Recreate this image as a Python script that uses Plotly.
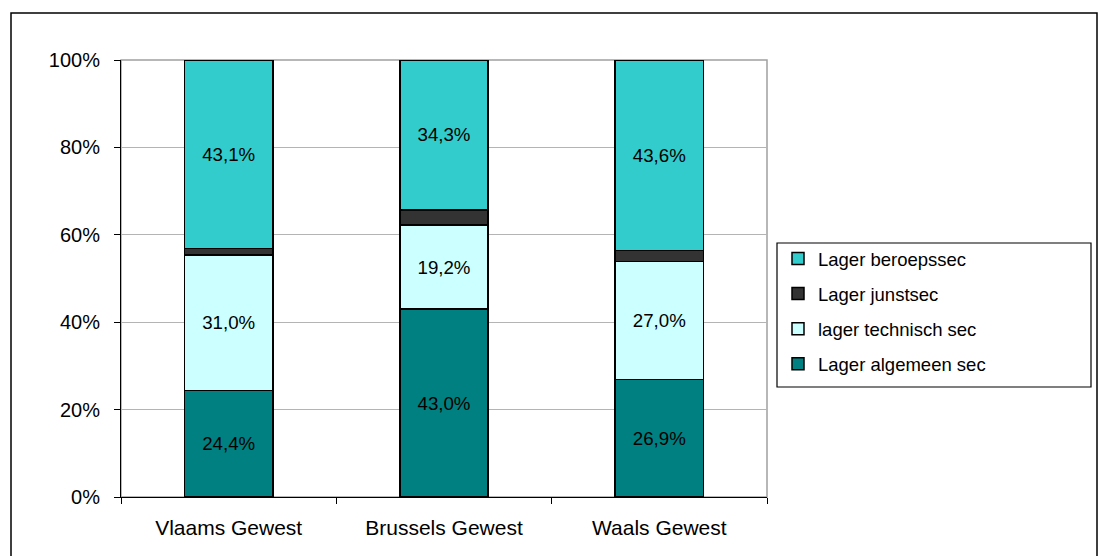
import plotly.graph_objects as go

categories = ["Vlaams Gewest", "Brussels Gewest", "Waals Gewest"]
series_names = ["Lager algemeen sec", "lager technisch sec", "Lager junstsec", "Lager beroepssec"]
algemeen = [24.4, 43.0, 26.9]
technisch = [31.0, 19.2, 27.0]
junst = [1.5, 3.5, 2.5]
beroeps = [43.1, 34.3, 43.6]
show_labels = [True, True, False, True]
colors = ["#008080", "#CCFFFF", "#333333", "#33CCCC"]
y_ticks = [0, 20, 40, 60, 80, 100]
y_ticktext = ["0%", "20%", "40%", "60%", "80%", "100%"]

W, H = 1099, 556
L, R, T, B = 121, 767, 60, 497
PW, PH = R - L, B - T


def px(x):
    return (x - L) / PW


def py(y):
    return (B - y) / PH


FONT = "Liberation Sans, Arial, sans-serif"

fig = go.Figure()
for i, (name, vals) in enumerate(zip(series_names, [algemeen, technisch, junst, beroeps])):
    texts = [f"{v:.1f}%".replace(".", ",") for v in vals] if show_labels[i] else None
    fig.add_trace(go.Bar(
        x=categories, y=vals, name=name,
        marker=dict(color=colors[i], line=dict(color="black", width=1.5)),
        text=texts, textposition="inside" if texts else "none",
        insidetextanchor="middle",
        textfont=dict(color="black", size=18.7, family=FONT),
        legendgroup=name, legendrank=100 - i,
        hoverinfo="skip",
    ))

fig.update_layout(
    width=W, height=H,
    margin=dict(l=L, r=W - R, t=T, b=H - B),
    barmode="stack", bargap=0.59,
    plot_bgcolor="white", paper_bgcolor="white",
    font=dict(family=FONT, color="black", size=20),
    showlegend=True,
    legend=dict(
        x=px(778), y=py(240), xanchor="left", yanchor="top",
        traceorder="grouped", tracegroupgap=8,
        font=dict(size=18.5, family=FONT),
        bgcolor="rgba(0,0,0,0)", borderwidth=0,
    ),
    xaxis=dict(
        showgrid=False, showline=True, linecolor="black", linewidth=1,
        ticks="outside", tickson="boundaries", ticklen=6, tickcolor="black",
        tickfont=dict(size=21), ticklabelstandoff=12,
    ),
    yaxis=dict(
        range=[0, 100], tickvals=y_ticks, ticktext=y_ticktext,
        showgrid=True, gridcolor="#B4B4B4", gridwidth=1,
        showline=True, linecolor="black", linewidth=1,
        ticks="outside", ticklen=6, tickcolor="black",
        tickfont=dict(size=20), zeroline=False, ticklabelstandoff=10,
    ),
    shapes=[
        dict(type="rect", xref="paper", yref="paper", x0=0, x1=1, y0=0, y1=1,
             line=dict(color="#A0A0A0", width=1.5), layer="below"),
        dict(type="rect", xref="paper", yref="paper",
             x0=px(777), x1=px(1091), y0=py(387), y1=py(243),
             line=dict(color="black", width=1.2), fillcolor="rgba(0,0,0,0)"),
        dict(type="rect", xref="paper", yref="paper",
             x0=px(11), x1=px(1097), y0=py(570), y1=py(13),
             line=dict(color="black", width=1.5), fillcolor="rgba(0,0,0,0)"),
    ],
)

fig.write_html("out.html", config={"displayModeBar": False},
               post_script="document.body.style.margin='0';")
